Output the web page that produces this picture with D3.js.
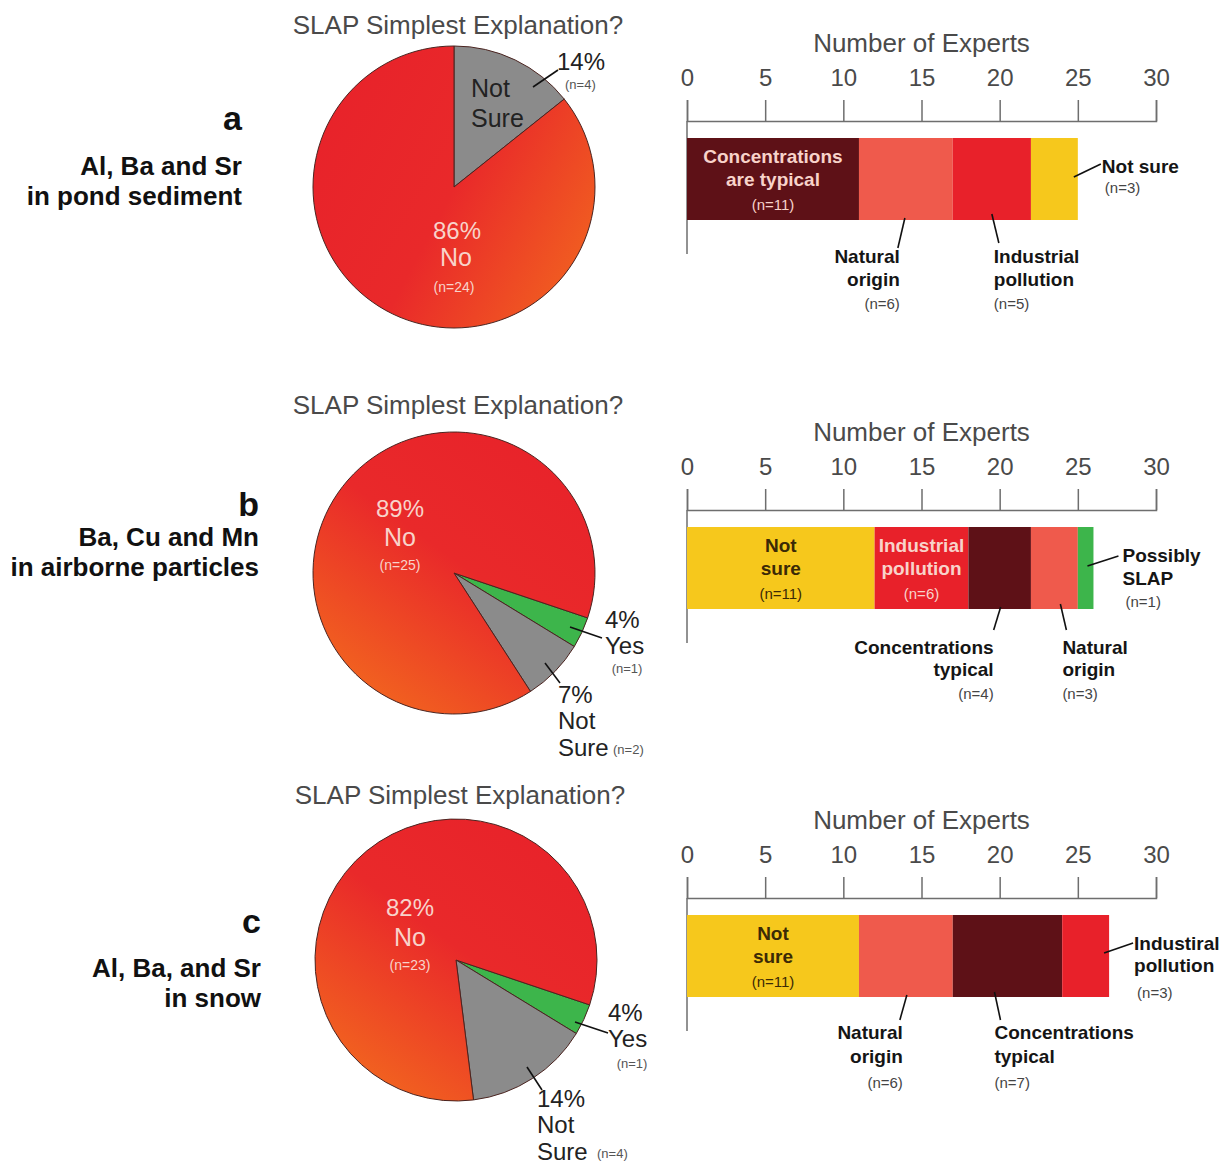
<!DOCTYPE html>
<html>
<head>
<meta charset="utf-8">
<script src="https://cdn.jsdelivr.net/npm/d3@7"></script>
<style>
body { margin: 0; background: #fff; }
text { font-family: "Liberation Sans", Arial, Helvetica, sans-serif; }
</style>
</head>
<body>
<div id="chart"></div>
<script>
"use strict";

// ---- data ----
const panelLetters = ["a", "b", "c"];
const sampleLines = [
    ["Al, Ba and Sr", "in pond sediment"],
    ["Ba, Cu and Mn", "in airborne particles"],
    ["Al, Ba, and Sr", "in snow"]
];

const pieCategories = ["Yes", "Not Sure", "No"];
const pieCountsA = [0, 4, 24];
const pieCountsB = [1, 2, 25];
const pieCountsC = [1, 4, 23];

const xTicks = [0, 5, 10, 15, 20, 25, 30];

const barCategoriesA = ["Concentrations typical", "Natural origin", "Industrial pollution", "Not sure"];
const barValuesA = [11, 6, 5, 3];
const barLabelsA = [["Concentrations", "are typical", "(n=11)"], ["Natural", "origin", "(n=6)"], ["Industrial", "pollution", "(n=5)"], ["Not sure", "(n=3)"]];

const barCategoriesB = ["Not sure", "Industrial pollution", "Concentrations typical", "Natural origin", "Possibly SLAP"];
const barValuesB = [12, 6, 4, 3, 1];
const barLabelsB = [["Not", "sure", "(n=11)"], ["Industrial", "pollution", "(n=6)"], ["Concentrations", "typical", "(n=4)"], ["Natural", "origin", "(n=3)"], ["Possibly", "SLAP", "(n=1)"]];

const barCategoriesC = ["Not sure", "Natural origin", "Concentrations typical", "Industrial pollution"];
const barValuesC = [11, 6, 7, 3];
const barLabelsC = [["Not", "sure", "(n=11)"], ["Natural", "origin", "(n=6)"], ["Concentrations", "typical", "(n=7)"], ["Industiral", "pollution", "(n=3)"]];

// ---- colours ----
const barColor = {
    "Concentrations typical": "#5e1117",
    "Natural origin": "#ef5a4c",
    "Industrial pollution": "#e8212a",
    "Not sure": "#f6c81c",
    "Possibly SLAP": "#3db54b"
};
const pieColor = { "Yes": "#3db54b", "Not Sure": "#8b8b8b" };
const darkText = "#222";
const pinkText = "#f8d3ca";

// ---- layout ----
const width = 1222, height = 1165;
const pieR = 141;
const barH = 82;

// bar annotations: in = inside segment, below = under segment with leader, side = right of bar end
const barNotes = [
    [{ type: "in", fill: pinkText },
     { type: "below", anchor: "end", tx: -6, leader: [-1, -2, -8, 28], ys: [36, 59, 83] },
     { type: "below", anchor: "start", tx: 2, leader: [0, -6, 7, 23], ys: [36, 59, 83] },
     { type: "side", tx: 24, leader: [-4, 39, 23, 26], ys: [28, 49] }],
    [{ type: "in", fill: "#3b2a06" },
     { type: "in", fill: pinkText },
     { type: "below", anchor: "end", tx: -6, leader: [1, -2, -6, 21], ys: [38, 60, 84] },
     { type: "below", anchor: "start", tx: 8, leader: [6, -5, 12, 21], ys: [38, 60, 84] },
     { type: "side", tx: 29, leader: [-6, 39, 25, 29], ys: [28, 51, 74] }],
    [{ type: "in", fill: "#3b2a06" },
     { type: "below", anchor: "end", tx: -3, leader: [1, -2, -6, 23], ys: [35, 59, 85] },
     { type: "below", anchor: "start", tx: -13, leader: [-13, -5, -7, 23], ys: [35, 59, 85] },
     { type: "side", tx: 25, leader: [-5, 38, 24, 28], ys: [28, 50, 77] }]
];

const panels = [
    { pie: pieCountsA, cats: barCategoriesA, vals: barValuesA, labels: barLabelsA,
      cx: 454, cy: 187, titleY: 25, barTop: 138, letterY: 118, linesY: [166, 196], right: 242,
      start: 0, grad: [-140, -40, 140, 110] },
    { pie: pieCountsB, cats: barCategoriesB, vals: barValuesB, labels: barLabelsB,
      cx: 454, cy: 573, titleY: 405, barTop: 527, letterY: 504, linesY: [537, 567], right: 259,
      start: 1.895, grad: [90, -120, -90, 130] },
    { pie: pieCountsC, cats: barCategoriesC, vals: barValuesC, labels: barLabelsC,
      cx: 456, cy: 960, titleY: 795, barTop: 915, letterY: 921, linesY: [968, 998], right: 261,
      start: 1.895, grad: [90, -120, -90, 130] }
];

const svg = d3.select("#chart").append("svg")
    .attr("width", width)
    .attr("height", height);
svg.append("rect").attr("width", width).attr("height", height).attr("fill", "#fff");
const defs = svg.append("defs");

const x = d3.scaleLinear().domain([0, 30]).range([687, 1156]);

function txt(g, px, py, s, size, anchor, fill, weight) {
    return g.append("text")
        .attr("x", px).attr("y", py)
        .attr("dominant-baseline", "central")
        .attr("text-anchor", anchor || "start")
        .attr("font-size", size)
        .attr("font-weight", weight || "normal")
        .attr("fill", fill || darkText)
        .text(s);
}

function leader(g, x1, y1, x2, y2) {
    g.append("line")
        .attr("x1", x1).attr("y1", y1).attr("x2", x2).attr("y2", y2)
        .attr("stroke", "#111").attr("stroke-width", 1.6);
}

panels.forEach((p, i) => {
    const g = svg.append("g");

    // left side labels
    txt(g, p.right, p.letterY, panelLetters[i], 34, "end", "#111", "bold");
    sampleLines[i].forEach((s, k) => txt(g, p.right, p.linesY[k], s, 26, "end", "#111", "bold"));

    // ---- pie ----
    const total = d3.sum(p.pie);
    const gradId = "noGrad" + i;
    // gradient coordinates are in the pie group's space (centre = 0,0)
    const lg = defs.append("linearGradient")
        .attr("id", gradId)
        .attr("gradientUnits", "userSpaceOnUse")
        .attr("x1", p.grad[0]).attr("y1", p.grad[1])
        .attr("x2", p.grad[2]).attr("y2", p.grad[3]);
    lg.append("stop").attr("offset", "0%").attr("stop-color", "#e8232a");
    lg.append("stop").attr("offset", "45%").attr("stop-color", "#e9292a");
    lg.append("stop").attr("offset", "100%").attr("stop-color", "#f2661f");

    txt(g, p.cx + 4, p.titleY, "SLAP Simplest Explanation?", 26, "middle", "#4a4a4a");

    const pie = d3.pie().sort(null).value(d => d.n)
        .startAngle(p.start).endAngle(p.start + 2 * Math.PI);
    const arcs = pie(pieCategories.map((c, k) => ({ cat: c, n: p.pie[k] })));
    const arc = d3.arc().innerRadius(0).outerRadius(pieR);

    g.append("g").attr("transform", `translate(${p.cx},${p.cy})`)
        .selectAll("path")
        .data(arcs.filter(a => a.data.n > 0))
        .join("path")
        .attr("d", arc)
        .attr("fill", d => d.data.cat === "No" ? `url(#${gradId})` : pieColor[d.data.cat])
        .attr("stroke", "#4a2420")
        .attr("stroke-width", 1);

    const pct = k => Math.round(p.pie[k] / total * 100) + "%";
    const nOf = k => "(n=" + p.pie[k] + ")";
    const cx = p.cx, cy = p.cy;

    if (i === 0) {
        txt(g, cx + 17, cy - 99, "Not", 25, "start", darkText);
        txt(g, cx + 17, cy - 69, "Sure", 25, "start", darkText);
        txt(g, cx + 103, cy - 126, pct(1), 24, "start", darkText);
        txt(g, cx + 111, cy - 103, nOf(1), 13, "start", "#555");
        leader(g, cx + 79, cy - 100, cx + 104, cy - 117);
        txt(g, cx + 3, cy + 43, pct(2), 24, "middle", pinkText);
        txt(g, cx + 2, cy + 70, "No", 25, "middle", pinkText);
        txt(g, cx, cy + 100, nOf(2), 14, "middle", pinkText);
    } else {
        const no = i === 1 ? [-54, -65, -36, -8] : [-46, -53, -23, 5];
        txt(g, cx + no[0], cy + no[1], pct(2), 24, "middle", pinkText);
        txt(g, cx + no[0], cy + no[2], "No", 25, "middle", pinkText);
        txt(g, cx + no[0], cy + no[3], nOf(2), 14, "middle", pinkText);

        const ys = i === 1 ? [151, 46, 72, 173, 95] : [152, 52, 78, 176, 103];
        txt(g, cx + ys[0], cy + ys[1], pct(0), 24, "start", darkText);
        txt(g, cx + ys[0], cy + ys[2], "Yes", 24, "start", darkText);
        txt(g, cx + ys[3], cy + ys[4], nOf(0), 13, "middle", "#555");
        if (i === 1) leader(g, cx + 116, cy + 54, cx + 148, cy + 65);
        else leader(g, cx + 119, cy + 62, cx + 152, cy + 73);

        const ns = i === 1 ? [104, 121, 159, 91, 90, 106, 110] : [81, 138, 141, 71, 107, 86, 130];
        txt(g, cx + ns[0], cy + ns[1], pct(1), 24, "start", darkText);
        txt(g, cx + ns[0], cy + ns[1] + 26, "Not", 24, "start", darkText);
        txt(g, cx + ns[0], cy + ns[1] + 53, "Sure", 24, "start", darkText);
        txt(g, cx + ns[2], cy + ns[1] + 55, nOf(1), 13, "start", "#555");
        leader(g, cx + ns[3], cy + ns[4], cx + ns[5], cy + ns[6]);
    }

    // ---- stacked bar ----
    const top = p.barTop, bottom = top + barH;
    txt(g, x(15), top - 95, "Number of Experts", 26, "middle", "#4a4a4a");

    const axisY = top - 17;
    const axis = d3.axisTop(x).tickValues(xTicks).tickSize(21).tickPadding(14);
    const ag = g.append("g")
        .attr("transform", `translate(0,${axisY})`)
        .call(axis);
    ag.selectAll("path, line").attr("stroke", "#6e6e6e").attr("stroke-width", 1.5);
    ag.selectAll("text")
        .attr("font-size", 24)
        .attr("fill", "#4a4a4a")
        .attr("font-family", "Liberation Sans, Arial, sans-serif");
    g.append("line")
        .attr("x1", x(0)).attr("x2", x(0))
        .attr("y1", axisY).attr("y2", bottom + 34)
        .attr("stroke", "#6e6e6e").attr("stroke-width", 1.5);

    let acc = 0;
    const segs = p.vals.map((v, k) => {
        const s = { cat: p.cats[k], x0: acc, x1: acc + v, lines: p.labels[k], note: barNotes[i][k] };
        acc += v;
        return s;
    });

    g.selectAll("rect.seg")
        .data(segs)
        .join("rect")
        .attr("class", "seg")
        .attr("x", d => x(d.x0))
        .attr("y", top)
        .attr("width", d => x(d.x1) - x(d.x0))
        .attr("height", barH)
        .attr("fill", d => barColor[d.cat]);

    segs.forEach(s => {
        const n = s.note;
        const mid = x((s.x0 + s.x1) / 2);
        const last = s.lines.length - 1;
        if (n.type === "in") {
            const ys = [18, 41, 66];
            s.lines.forEach((l, k) => {
                txt(g, mid, top + ys[k], l, k === last ? 15 : 19, "middle", n.fill, k === last ? "normal" : "bold");
            });
        } else if (n.type === "below") {
            const L = n.leader;
            leader(g, mid + L[0], bottom + L[1], mid + L[2], bottom + L[3]);
            s.lines.forEach((l, k) => {
                txt(g, mid + n.tx, bottom + n.ys[k], l, k === last ? 15 : 19, n.anchor,
                    k === last ? "#444" : "#151515", k === last ? "normal" : "bold");
            });
        } else {
            const end = x(s.x1);
            const L = n.leader;
            leader(g, end + L[0], top + L[1], end + L[2], top + L[3]);
            s.lines.forEach((l, k) => {
                txt(g, end + n.tx + (k === last ? 3 : 0), top + n.ys[k], l, k === last ? 15 : 19, "start",
                    k === last ? "#444" : "#151515", k === last ? "normal" : "bold");
            });
        }
    });
});
</script>
</body>
</html>
